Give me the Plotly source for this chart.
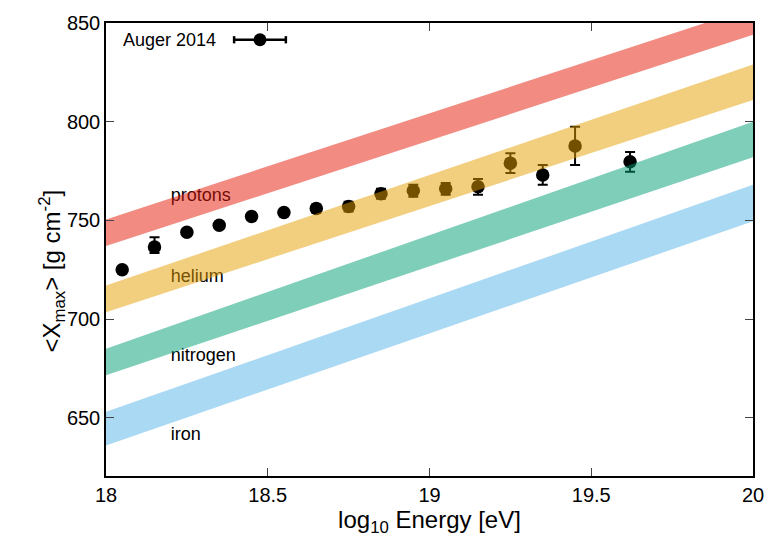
import plotly.graph_objects as go

# ---- data -------------------------------------------------------------
log_e = [18.05, 18.15, 18.25, 18.35, 18.45, 18.55, 18.65, 18.75, 18.85,
         18.95, 19.05, 19.15, 19.25, 19.35, 19.45, 19.62]
xmax = [725.0, 736.5, 744.0, 747.5, 752.0, 754.0, 756.0, 757.0, 763.5,
        765.0, 766.0, 767.0, 779.0, 773.0, 787.7, 779.7]
err_plus = [1.5, 5.0, 1.5, 1.5, 1.5, 1.5, 2.0, 2.5, 2.5,
            3.0, 3.0, 4.0, 5.0, 5.0, 9.7, 5.0]
err_minus = [1.5, 3.0, 1.5, 1.5, 1.5, 1.5, 2.0, 2.5, 2.5,
             3.0, 3.0, 4.0, 5.0, 5.0, 9.7, 5.0]

band_x = [18.0, 20.0]
bands = {
    "protons":  {"lo": [737.0, 844.0], "hi": [750.5, 858.0], "rgb": (230, 25, 8)},
    "helium":   {"lo": [703.5, 811.0], "hi": [717.0, 829.0], "rgb": (230, 159, 0)},
    "nitrogen": {"lo": [671.5, 782.0], "hi": [685.0, 800.0], "rgb": (0, 158, 115)},
    "iron":     {"lo": [636.0, 749.5], "hi": [653.0, 768.0], "rgb": (86, 180, 233)},
}
label_x = [18.2, 18.2, 18.2, 18.2]
label_y = [762.0, 721.0, 681.0, 641.0]
label_text = ["protons", "helium", "nitrogen", "iron"]

x_ticks = [18, 18.5, 19, 19.5, 20]
x_ticktext = ["18", "18.5", "19", "19.5", "20"]
y_ticks = [650, 700, 750, 800, 850]

FONT = "Liberation Sans, Arial, Helvetica, sans-serif"

fig = go.Figure()

# labels (drawn beneath translucent bands)
fig.add_trace(go.Scatter(
    x=label_x, y=label_y, text=label_text, mode="text",
    textposition="middle right",
    textfont=dict(family=FONT, size=18, color="black"),
    showlegend=False, hoverinfo="skip"))

# data points
fig.add_trace(go.Scatter(
    x=log_e, y=xmax, mode="markers",
    marker=dict(size=13.5, color="black"),
    error_y=dict(type="data", array=err_plus, arrayminus=err_minus,
                 symmetric=False, color="black", thickness=2, width=5),
    showlegend=False))

# translucent bands on top
for name, b in bands.items():
    r, g, bl = b["rgb"]
    fig.add_trace(go.Scatter(
        x=[band_x[0], band_x[1], band_x[1], band_x[0], band_x[0]],
        y=[b["lo"][0], b["lo"][1], b["hi"][1], b["hi"][0], b["lo"][0]],
        mode="lines", fill="toself",
        fillcolor=f"rgba({r},{g},{bl},0.5)",
        line=dict(width=0, color=f"rgba({r},{g},{bl},0)"),
        showlegend=False, hoverinfo="skip", name=name))

# legend key (manual)
ly = 0.963
shapes = [
    dict(type="line", xref="paper", yref="paper", x0=0.198, x1=0.278,
         y0=ly, y1=ly, line=dict(color="black", width=2.5)),
    dict(type="line", xref="paper", yref="paper", x0=0.198, x1=0.198,
         y0=ly - 0.008, y1=ly + 0.008, line=dict(color="black", width=2.5)),
    dict(type="line", xref="paper", yref="paper", x0=0.278, x1=0.278,
         y0=ly - 0.008, y1=ly + 0.008, line=dict(color="black", width=2.5)),
    dict(type="circle", xref="paper", yref="paper", xsizemode="pixel",
         ysizemode="pixel", xanchor=0.238, yanchor=ly,
         x0=-6.5, x1=6.5, y0=-6.5, y1=6.5,
         fillcolor="black", line=dict(color="black", width=0)),
]
annotations = [
    dict(text="Auger 2014", xref="paper", yref="paper", x=0.173, y=ly,
         xanchor="right", yanchor="middle", showarrow=False,
         font=dict(family=FONT, size=18, color="black")),
    dict(text="&lt;X<sub>max</sub>&gt; [g cm<sup>-2</sup>]",
         xref="paper", yref="paper", x=-0.083, y=0.452,
         xanchor="center", yanchor="middle", textangle=-90, showarrow=False,
         font=dict(family=FONT, size=24, color="black")),
]

axis_common = dict(
    showline=True, linecolor="black", linewidth=1.5, mirror="ticks",
    ticks="inside", ticklen=8, tickwidth=1, tickcolor="#444",
    showgrid=False, zeroline=False,
    tickfont=dict(family=FONT, size=20, color="black"),
)

fig.update_layout(
    width=780, height=540,
    margin=dict(l=106, r=27, t=17, b=64),
    paper_bgcolor="white", plot_bgcolor="white",
    shapes=shapes, annotations=annotations,
    xaxis=dict(range=[18, 20], tickvals=x_ticks, ticktext=x_ticktext,
               title=dict(text="log<sub>10</sub> Energy [eV]",
                          font=dict(family=FONT, size=24, color="black"),
                          standoff=3),
               **axis_common),
    yaxis=dict(range=[620.5, 850], tickvals=y_ticks, **axis_common),
)

fig.write_html("out.html")
